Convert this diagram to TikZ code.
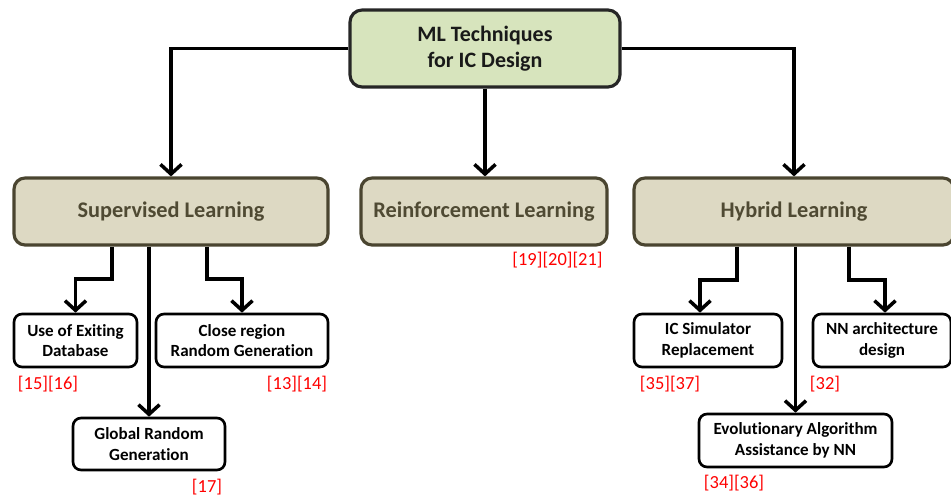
\documentclass[tikz,border=0pt]{standalone}
\usepackage{fontspec}
\setmainfont{Carlito}[Ligatures=NoCommon]
\usetikzlibrary{arrows.meta}
\definecolor{topfill}{HTML}{D7E4BD}
\definecolor{midfill}{HTML}{DDD9C3}
\definecolor{midline}{HTML}{4A4530}
\definecolor{midtext}{HTML}{4F4A33}
\begin{document}
\begin{tikzpicture}[x=0.02cm, y=-0.02cm,
	topbox/.style={draw=black!85, line width=1.8pt, fill=topfill, rounded corners=0.24cm, align=center, font=\fontsize{12.5}{14.5}\selectfont\bfseries, text=black!90},
	midbox/.style={draw=midline, line width=1.8pt, fill=midfill, rounded corners=0.22cm, minimum height=1.34cm, font=\fontsize{12.7}{15}\selectfont\bfseries, text=midtext},
	leafbox/.style={draw=black, line width=1.5pt, fill=white, rounded corners=0.16cm, minimum height=1.06cm, align=center, font=\fontsize{9.7}{11.6}\selectfont\bfseries},
	conn/.style={line width=2pt, -{Straight Barb[length=5.5pt,width=12pt]}},
	ref/.style={text=red, font=\fontsize{10.5}{12}\selectfont, inner sep=0pt}]
	\useasboundingbox (0,0) rectangle (951,497);

	% Draw the root
	\node[topbox, minimum width=5.4cm, minimum height=1.54cm] (ml) at (485,48.5) {ML Techniques\\for IC Design};

	% Draw the learning types
	\node[midbox, minimum width=6.28cm] (sup) at (171,211.5) {Supervised Learning};
	\node[midbox, minimum width=4.92cm] (rl) at (484,211.5) {Reinforcement Learning};
	\node[midbox, minimum width=6.4cm] (hyb) at (794,211.5) {Hybrid Learning};

	% Draw the supervised leaves
	\node[leafbox, minimum width=2.46cm] (use) at (75.5,340.5) {Use of Exiting\\Database};
	\node[leafbox, minimum width=3.44cm] (close) at (242,340.5) {Close region\\Random Generation};
	\node[leafbox, minimum width=3.04cm, minimum height=1.04cm] (glob) at (149,444) {Global Random\\Generation};

	% Draw the hybrid leaves
	\node[leafbox, minimum width=2.96cm] (ics) at (708,340.5) {IC Simulator\\Replacement};
	\node[leafbox, minimum width=2.76cm] (nna) at (882,340.5) {NN architecture\\design};
	\node[leafbox, minimum width=3.86cm] (evo) at (795.5,440.5) {Evolutionary Algorithm\\Assistance by NN};

	% Draw the connectors from the root
	\draw[conn] (ml.west) -| (sup.north);
	\draw[conn] (ml.south) -- (ml.south |- rl.north);
	\draw[conn] (ml.east) -| (hyb.north);

	% Elbow points
	\coordinate (s1) at (112,279);
	\coordinate (s2) at (207,279);
	\coordinate (h1) at (737,280);
	\coordinate (h2) at (849,280);

	% Draw the supervised connectors
	\draw[conn] (sup.south -| s1) -- (s1) -| (use.north);
	\draw[conn] (sup.south -| glob.north) -- (glob.north);
	\draw[conn] (sup.south -| s2) -- (s2) -| (close.north);

	% Draw the hybrid connectors
	\draw[conn] (hyb.south -| h1) -- (h1) -| ([xshift=-0.16cm]ics.north);
	\draw[conn] (hyb.south -| evo.north) -- (evo.north);
	\draw[conn] (hyb.south -| h2) -- (h2) -| ([xshift=0.06cm]nna.north);

	% Label the references
	\node[ref] (r1) at (48,384) {[15][16]};
	\node[ref] (r2) at (297,384) {[13][14]};
	\node[ref] (r3) at (207,487) {[17]};
	\node[ref] (r4) at (557.5,260) {[19][20][21]};
	\node[ref] (r5) at (670,384) {[35][37]};
	\node[ref] (r6) at (825,384) {[32]};
	\node[ref] (r7) at (734,483) {[34][36]};
\end{tikzpicture}
\end{document}
